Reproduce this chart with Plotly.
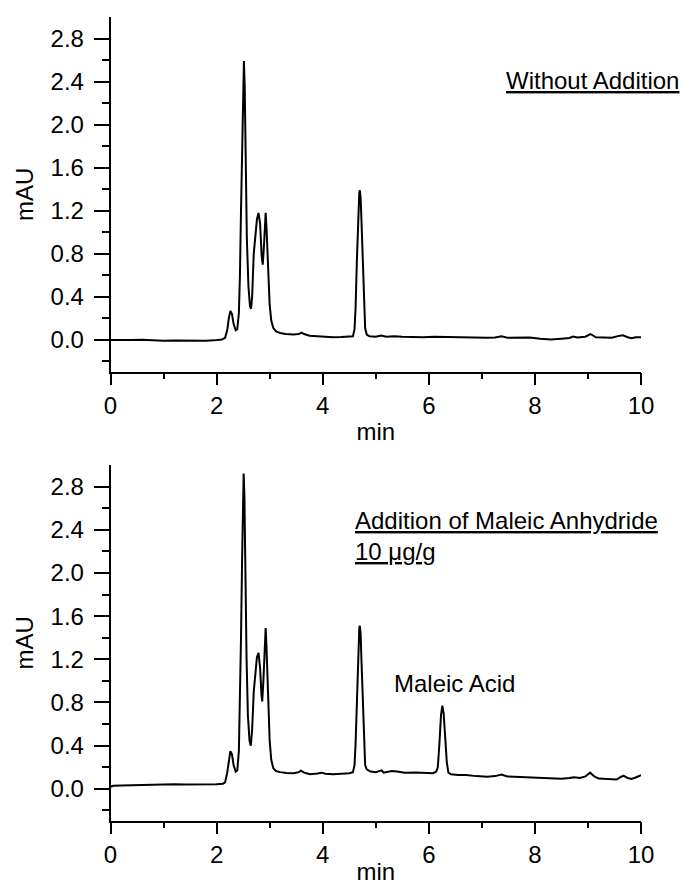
import plotly.graph_objects as go

# Chromatogram without addition: retention time (min) and absorbance (mAU)
t_blank = [
    0.00, 0.20, 0.40, 0.60, 0.80, 1.00, 1.20, 1.40, 1.60, 1.80, 1.95, 2.10,
    2.16, 2.20, 2.23, 2.26, 2.29, 2.32, 2.36, 2.39, 2.42, 2.44, 2.46, 2.48,
    2.50, 2.515, 2.53, 2.55, 2.57, 2.60, 2.63, 2.65, 2.67, 2.70, 2.73, 2.76,
    2.79, 2.82, 2.85, 2.87, 2.89, 2.91, 2.925, 2.94, 2.97, 3.00, 3.03, 3.07,
    3.12, 3.20, 3.30, 3.45, 3.55, 3.60, 3.65, 3.75, 3.90, 4.05, 4.20, 4.35,
    4.50, 4.57, 4.60, 4.62, 4.645, 4.67, 4.69, 4.70, 4.715, 4.73, 4.755, 4.78,
    4.80, 4.83, 4.88, 5.00, 5.10, 5.20, 5.35, 5.50, 5.70, 5.90, 6.10, 6.30,
    6.50, 6.70, 6.90, 7.10, 7.25, 7.37, 7.48, 7.70, 7.90, 8.10, 8.30, 8.50,
    8.65, 8.72, 8.80, 8.95, 9.05, 9.15, 9.30, 9.45, 9.60, 9.66, 9.75, 9.82,
    9.90, 10.00,
]
mau_blank = [
    0.000, -0.003, 0.000, 0.002, -0.004, -0.008, -0.006, -0.008, -0.006, -0.008, -0.004, 0.005,
    0.020, 0.090, 0.200, 0.270, 0.240, 0.150, 0.090, 0.100, 0.250, 0.600, 1.200, 1.850,
    2.400, 2.590, 2.350, 1.600, 0.950, 0.500, 0.310, 0.290, 0.400, 0.800, 1.000, 1.120,
    1.180, 1.080, 0.780, 0.700, 0.850, 1.120, 1.180, 1.050, 0.650, 0.330, 0.180, 0.110,
    0.080, 0.065, 0.055, 0.050, 0.055, 0.068, 0.055, 0.040, 0.035, 0.030, 0.025, 0.028,
    0.030, 0.035, 0.100, 0.300, 0.750, 1.150, 1.370, 1.390, 1.320, 1.120, 0.680, 0.280,
    0.110, 0.050, 0.035, 0.030, 0.040, 0.030, 0.035, 0.030, 0.028, 0.025, 0.030, 0.028,
    0.022, 0.025, 0.022, 0.020, 0.022, 0.035, 0.020, 0.020, 0.022, 0.012, 0.005, 0.012,
    0.018, 0.032, 0.022, 0.030, 0.055, 0.025, 0.020, 0.020, 0.040, 0.043, 0.025, 0.015,
    0.025, 0.025,
]

# Chromatogram after addition of maleic anhydride (10 ug/g)
t_spiked = [
    0.00, 0.05, 0.20, 0.40, 0.60, 0.80, 1.00, 1.20, 1.40, 1.60, 1.80, 2.00,
    2.12, 2.16, 2.20, 2.23, 2.26, 2.29, 2.32, 2.36, 2.39, 2.42, 2.44, 2.46,
    2.48, 2.50, 2.51, 2.525, 2.545, 2.565, 2.59, 2.62, 2.645, 2.67, 2.70, 2.73,
    2.76, 2.79, 2.82, 2.845, 2.86, 2.88, 2.90, 2.925, 2.94, 2.97, 3.00, 3.03,
    3.07, 3.12, 3.20, 3.32, 3.45, 3.55, 3.59, 3.65, 3.76, 3.90, 3.98, 4.05,
    4.20, 4.35, 4.50, 4.57, 4.60, 4.62, 4.645, 4.67, 4.69, 4.70, 4.715, 4.73,
    4.755, 4.78, 4.80, 4.83, 4.90, 5.00, 5.08, 5.11, 5.15, 5.20, 5.30, 5.40,
    5.55, 5.75, 5.95, 6.08, 6.14, 6.17, 6.20, 6.23, 6.255, 6.28, 6.31, 6.34,
    6.37, 6.42, 6.55, 6.70, 6.90, 7.10, 7.25, 7.37, 7.48, 7.70, 7.90, 8.10,
    8.30, 8.50, 8.65, 8.74, 8.85, 8.95, 9.04, 9.12, 9.20, 9.40, 9.54, 9.62,
    9.67, 9.75, 9.82, 9.90, 10.00,
]
mau_spiked = [
    0.020, 0.028, 0.032, 0.035, 0.038, 0.042, 0.045, 0.042, 0.040, 0.040, 0.042, 0.042,
    0.048, 0.060, 0.150, 0.280, 0.350, 0.320, 0.220, 0.160, 0.170, 0.350, 0.750, 1.400,
    2.100, 2.700, 2.920, 2.700, 1.900, 1.200, 0.680, 0.450, 0.400, 0.550, 0.900, 1.100,
    1.220, 1.260, 1.120, 0.880, 0.810, 0.980, 1.300, 1.490, 1.320, 0.850, 0.450, 0.270,
    0.190, 0.165, 0.155, 0.148, 0.145, 0.155, 0.168, 0.150, 0.136, 0.142, 0.150, 0.140,
    0.136, 0.140, 0.145, 0.155, 0.220, 0.420, 0.880, 1.280, 1.490, 1.510, 1.440, 1.200,
    0.780, 0.380, 0.220, 0.180, 0.160, 0.155, 0.165, 0.172, 0.150, 0.155, 0.165, 0.160,
    0.150, 0.152, 0.145, 0.145, 0.160, 0.200, 0.420, 0.680, 0.770, 0.700, 0.470, 0.240,
    0.150, 0.135, 0.128, 0.128, 0.118, 0.112, 0.118, 0.132, 0.115, 0.110, 0.106, 0.104,
    0.100, 0.094, 0.100, 0.108, 0.100, 0.115, 0.150, 0.115, 0.095, 0.090, 0.086, 0.110,
    0.122, 0.100, 0.092, 0.105, 0.127,
]

# Axis ticks and labels
x_major = [0, 2, 4, 6, 8, 10]
x_labels = ["0", "2", "4", "6", "8", "10"]
x_minor = [1, 3, 5, 7, 9]
y_major = [0.0, 0.4, 0.8, 1.2, 1.6, 2.0, 2.4, 2.8]
y_labels = ["0.0", "0.4", "0.8", "1.2", "1.6", "2.0", "2.4", "2.8"]
y_minor = [-0.2, 0.2, 0.6, 1.0, 1.4, 1.8, 2.2, 2.6]

W, H = 686, 885
FONT = "Arial, 'Liberation Sans', sans-serif"
FS = 24

# Plot-area geometry in pixels
left_px, right_px = 110.5, 641.0
top_panel = (17.0, 371.7)
bottom_panel = (465.0, 820.7)


def ydom(panel):
    top, bottom = panel
    return [1 - bottom / H, 1 - top / H]


fig = go.Figure()
fig.add_trace(go.Scatter(x=t_blank, y=mau_blank, mode="lines", xaxis="x", yaxis="y",
                         line=dict(color="black", width=2), showlegend=False, hoverinfo="skip"))
fig.add_trace(go.Scatter(x=t_spiked, y=mau_spiked, mode="lines", xaxis="x2", yaxis="y2",
                         line=dict(color="black", width=2), showlegend=False, hoverinfo="skip"))

line_style = dict(showline=True, linecolor="black", linewidth=1.5, showgrid=False,
                  zeroline=False, ticks="outside", tickcolor="black", tickwidth=1.5,
                  tickfont=dict(family=FONT, size=FS, color="black"))


def xaxis_cfg(anchor):
    return dict(line_style, range=[0, 10], domain=[left_px / W, right_px / W], anchor=anchor,
                tickmode="array", tickvals=x_major, ticktext=x_labels, ticklen=12,
                minor=dict(tickmode="array", tickvals=x_minor, ticks="outside", ticklen=6,
                           tickcolor="black", tickwidth=1.5),
                title=dict(text="min", font=dict(family=FONT, size=FS, color="black"), standoff=5),
                automargin=False)


def yaxis_cfg(anchor, panel):
    return dict(line_style, range=[-0.295, 3.0], domain=ydom(panel), anchor=anchor,
                tickmode="array", tickvals=y_major, ticktext=y_labels, ticklen=15,
                ticklabelstandoff=5,
                minor=dict(tickmode="array", tickvals=y_minor, ticks="outside", ticklen=7,
                           tickcolor="black", tickwidth=1.5),
                title=dict(text="mAU", font=dict(family=FONT, size=FS, color="black"), standoff=10),
                automargin=False)


fig.update_layout(
    width=W, height=H,
    margin=dict(l=0, r=0, t=0, b=0),
    paper_bgcolor="white", plot_bgcolor="white",
    font=dict(family=FONT, size=FS, color="black"),
    xaxis=xaxis_cfg("y"), yaxis=yaxis_cfg("x", top_panel),
    xaxis2=xaxis_cfg("y2"), yaxis2=yaxis_cfg("x2", bottom_panel),
    annotations=[
        dict(text="<u>Without Addition</u>", xref="paper", yref="paper",
             x=681 / W, y=1 - 80.5 / H,
             xanchor="right", yanchor="middle", showarrow=False,
             font=dict(family=FONT, size=FS, color="black")),
        dict(text="<u>Addition of Maleic Anhydride</u>", xref="x2", yref="y2", x=4.565, y=2.485,
             xanchor="left", yanchor="middle", showarrow=False,
             font=dict(family=FONT, size=FS, color="black")),
        dict(text="<u>10 \u03bcg/g</u>", xref="x2", yref="y2", x=4.565, y=2.20,
             xanchor="left", yanchor="middle", showarrow=False,
             font=dict(family=FONT, size=FS, color="black")),
        dict(text="Maleic Acid", xref="x2", yref="y2", x=5.31, y=0.98,
             xanchor="left", yanchor="middle", showarrow=False,
             font=dict(family=FONT, size=FS, color="black")),
    ],
)

fig.write_html("out.html")
